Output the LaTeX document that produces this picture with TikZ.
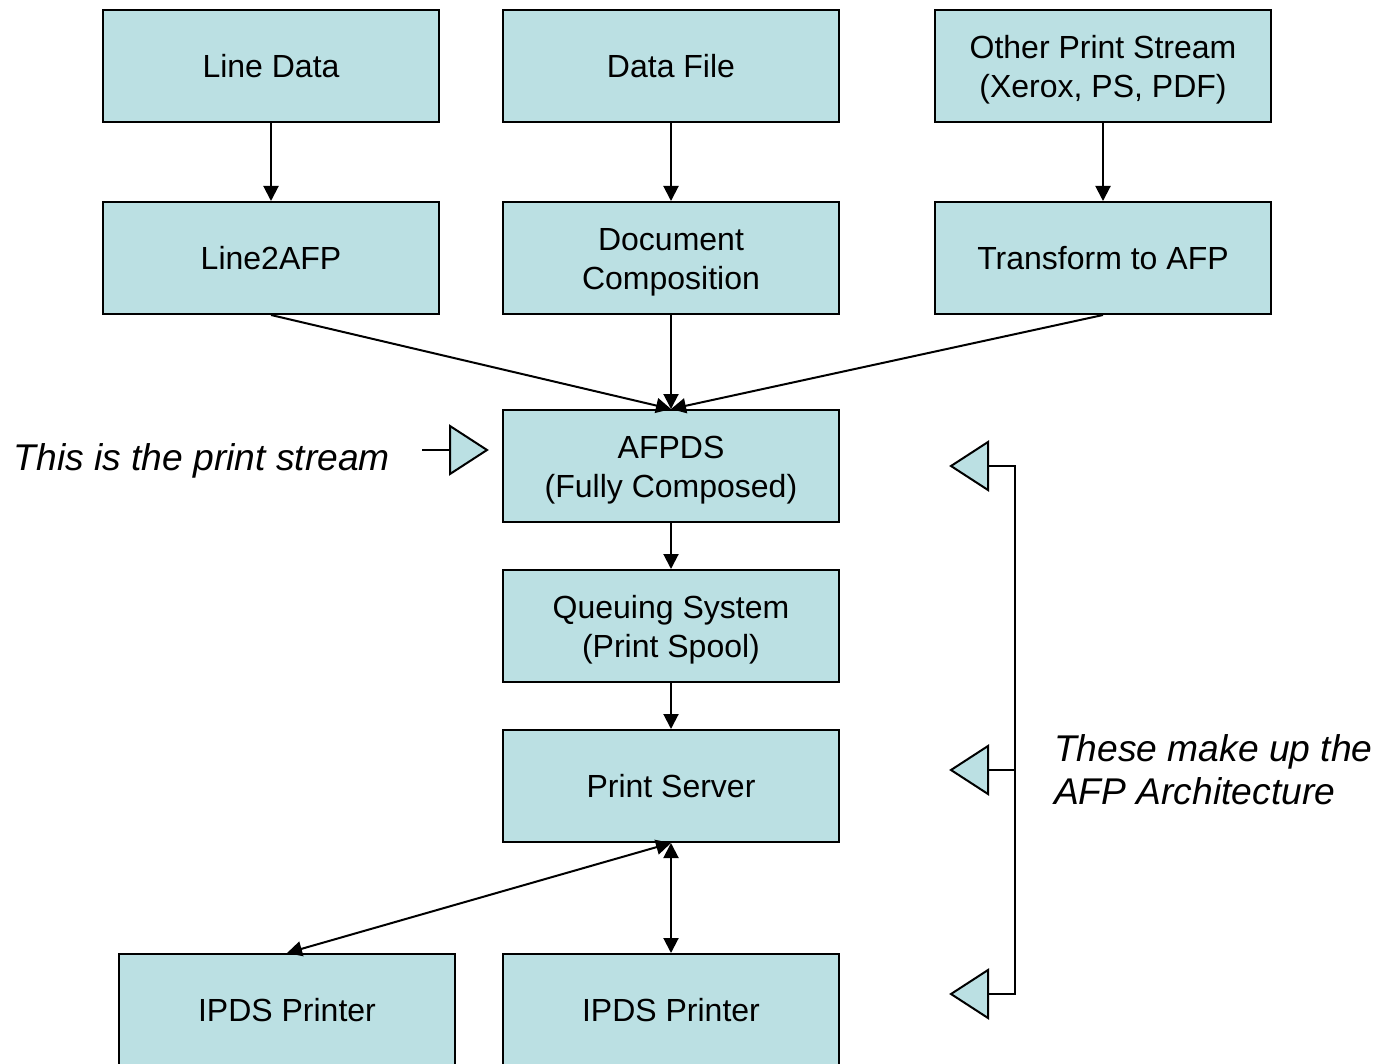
\documentclass[tikz,border=0pt]{standalone}
\usepackage{fontspec}
\setmainfont{Liberation Sans}
\usetikzlibrary{arrows.meta}
\definecolor{boxfill}{RGB}{187,224,227}
\newcommand{\topgap}{\rule{0pt}{15.7pt}}

\tikzset{
	stage/.style={draw, line width=1pt, fill=boxfill, minimum width=168pt, minimum height=56pt,
		align=center, inner sep=2pt, font=\fontsize{16}{19.5}\selectfont},
	note/.style={font=\fontsize{18.6}{21.5}\selectfont\itshape},
	flow/.style={line width=1pt, -{Triangle[width=7.5pt, length=7.5pt]}},
	flowboth/.style={line width=1pt, {Triangle[width=7.5pt, length=7.5pt]}-{Triangle[width=7.5pt, length=7.5pt]}},
	marker/.style={line width=1pt, fill=boxfill, line join=miter},
}

\begin{document}
\begin{tikzpicture}[x=0.5pt, y=-0.5pt]
	\useasboundingbox (0, 0) rectangle (1381, 1064);
	% sources
	\node[stage] (linedata) at (271, 66) {Line Data};
	\node[stage] (datafile) at (671, 66) {Data File};
	\node[stage] (otherps)  at (1103, 66) {\topgap Other Print Stream\\(Xerox, PS, PDF)};
	% conversion
	\node[stage] (line2afp)  at (271, 258) {Line2AFP};
	\node[stage] (doccomp)   at (671, 258) {\topgap Document\\Composition};
	\node[stage] (transform) at (1103, 258) {Transform to AFP};
	% architecture
	\node[stage] (afpds)   at (671, 466) {\topgap AFPDS\\(Fully Composed)};
	\node[stage] (queue)   at (671, 626) {\topgap Queuing System\\(Print Spool)};
	\node[stage] (pserver) at (671, 786) {Print Server};
	\node[stage] (ipdsL)   at (287, 1010) {IPDS Printer};
	\node[stage] (ipdsR)   at (671, 1010) {IPDS Printer};

	\draw[flow] (linedata) -- (line2afp);
	\draw[flow] (datafile) -- (doccomp);
	\draw[flow] (otherps) -- (transform);
	\draw[flow] (line2afp.south) -- (afpds.north);
	\draw[flow] (doccomp.south) -- (afpds.north);
	\draw[flow] (transform.south) -- (afpds.north);
	\draw[flow] (afpds) -- (queue);
	\draw[flow] (queue) -- (pserver);
	\draw[flowboth] (pserver.south) -- (ipdsL.north);
	\draw[flowboth] (pserver.south) -- (ipdsR.north);

	% print stream marker
	\node[note, anchor=east] (streamtxt) at (397, 461) {This is the print stream};
	\draw[marker] (450, 426) -- (487, 450) -- (450, 474) -- cycle;
	\coordinate (streamtip) at (422, 450);
	\coordinate (streamtri) at (450, 450);
	\draw[line width=1pt] (streamtip) -- (streamtri);

	% architecture bracket
	\foreach \y/\n in {466/a, 770/b, 994/c} {
		\draw[marker] (988, \y-24) -- (951, \y) -- (988, \y+24) -- cycle;
		\coordinate (tri\n) at (988, \y);
	}
	\coordinate (bktop) at (1015, 466);
	\coordinate (bkbot) at (1015, 994);
	\draw[line width=1pt] (tria) -- (bktop) -- (bkbot) -- (tric);
	\draw[line width=1pt] (trib) -- (1015, 770);
	\node[note, anchor=west, align=left] (archtxt) at (1047, 770) {These make up the\\AFP Architecture};
\end{tikzpicture}
\end{document}
